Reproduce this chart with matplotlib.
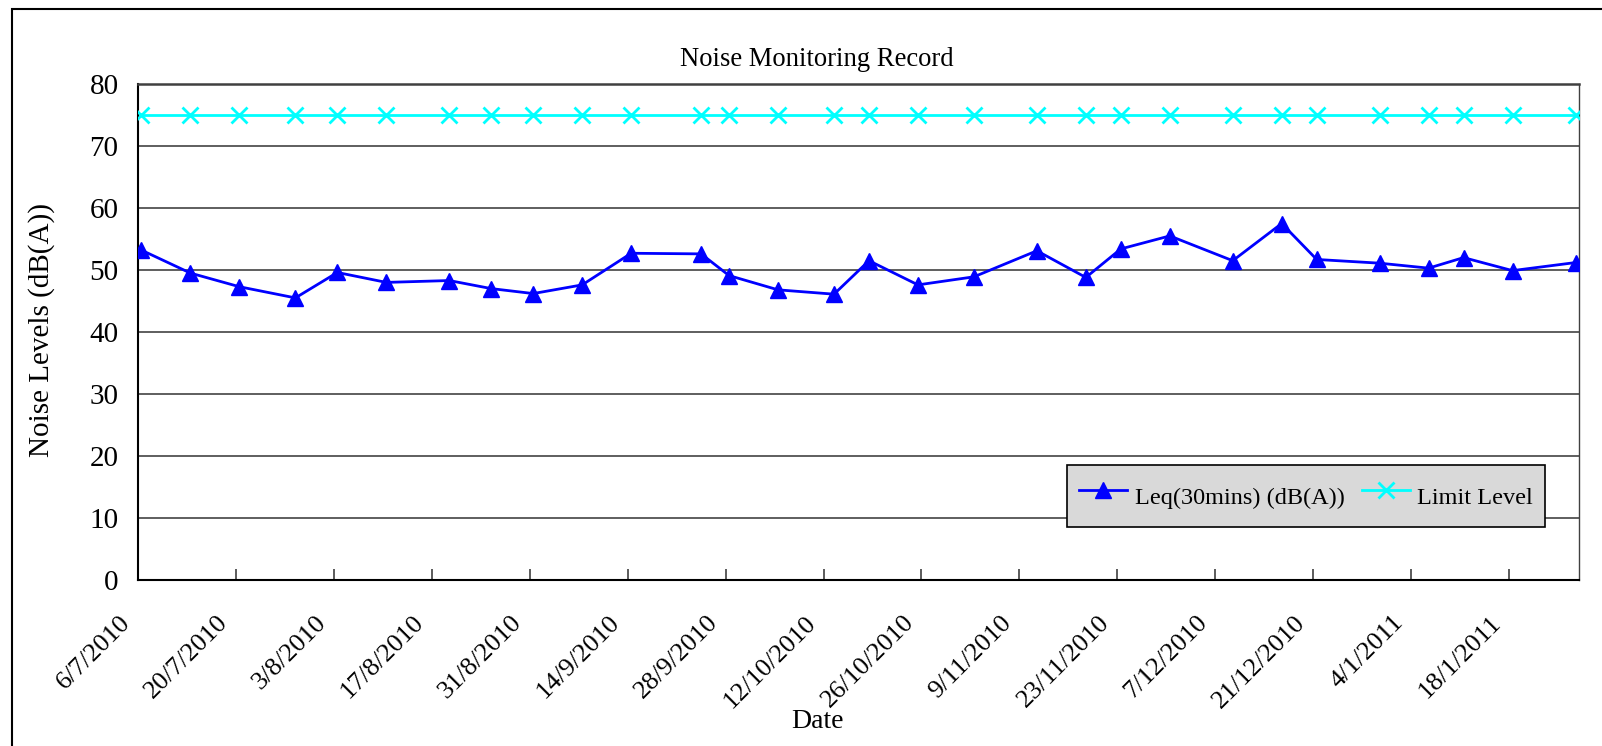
import matplotlib
matplotlib.use("Agg")
import matplotlib.pyplot as plt
import matplotlib.transforms as mtransforms
from matplotlib.patches import Rectangle
from datetime import datetime, timedelta

# ---- data ----
dates = ["6/7/2010", "13/7/2010", "20/7/2010", "28/7/2010", "3/8/2010", "10/8/2010",
         "19/8/2010", "25/8/2010", "31/8/2010", "7/9/2010", "14/9/2010", "24/9/2010",
         "28/9/2010", "5/10/2010", "13/10/2010", "18/10/2010", "25/10/2010", "2/11/2010",
         "11/11/2010", "18/11/2010", "23/11/2010", "30/11/2010", "9/12/2010", "16/12/2010",
         "21/12/2010", "30/12/2010", "6/1/2011", "11/1/2011", "18/1/2011", "27/1/2011"]
leq = [53.2, 49.5, 47.3, 45.5, 49.6, 48.0,
       48.3, 47.0, 46.2, 47.6, 52.7, 52.6,
       49.1, 46.8, 46.1, 51.5, 47.6, 48.9,
       53.1, 48.8, 53.4, 55.5, 51.5, 57.5,
       51.7, 51.1, 50.3, 52.0, 49.9, 51.2]
limit = [75] * len(dates)
tick_labels = ["6/7/2010", "20/7/2010", "3/8/2010", "17/8/2010", "31/8/2010", "14/9/2010",
               "28/9/2010", "12/10/2010", "26/10/2010", "9/11/2010", "23/11/2010",
               "7/12/2010", "21/12/2010", "4/1/2011", "18/1/2011"]
y_ticks = [0, 10, 20, 30, 40, 50, 60, 70, 80]

def parse(s):
    return datetime.strptime(s, "%d/%m/%Y")

# Excel date axis: each point sits in the middle of its day
xs = [parse(d) + timedelta(hours=12) for d in dates]
xt = [parse(t) for t in tick_labels]

plt.rcParams['font.family'] = ['Liberation Serif', 'DejaVu Serif']

W, H = 1602, 746
fig = plt.figure(figsize=(W / 100, H / 100), dpi=100)

# outer chart-area border (clipped by the image on right and bottom)
fig.patches.append(Rectangle((12 / W, -0.1), 1.2, 1 - 9.5 / H + 0.1,
                             transform=fig.transFigure, fill=False,
                             edgecolor='black', linewidth=1.5))

l, r, t, b = 138, 1579, 84, 580
ax = fig.add_axes([l / W, 1 - b / H, (r - l) / W, (b - t) / H])

ax.plot(xs, limit, color='#00FFFF', lw=2, marker='x', markersize=11,
        markeredgewidth=2, label='Limit Level', zorder=3)
ax.plot(xs, leq, color='#0000FF', lw=2, marker='^', markersize=11,
        label='Leq(30mins) (dB(A))', zorder=4)

ax.set_xlim(parse("6/7/2010"), parse("28/1/2011"))
ax.set_ylim(0, 80)
ax.set_yticks(y_ticks)
ax.set_xticks(xt)
ax.set_xticklabels(tick_labels, rotation=45, ha='right', va='top',
                   rotation_mode='anchor', fontsize=19)
ax.tick_params(axis='x', direction='in', length=8, width=1.2, color='#404040', pad=14)
ax.tick_params(axis='y', direction='in', length=0, labelsize=21, pad=14)
ax.grid(axis='y', color='#333333', lw=1.1)
ax.set_axisbelow(True)

off = mtransforms.ScaledTranslation(-19 / 100, -12 / 100, fig.dpi_scale_trans)
for lab in ax.get_xticklabels():
    lab.set_transform(lab.get_transform() + off)

for s in ['left', 'bottom']:
    ax.spines[s].set_color('black')
    ax.spines[s].set_linewidth(1.5)
ax.spines['top'].set_color('#404040')
ax.spines['top'].set_linewidth(1.8)
ax.spines['right'].set_color('#404040')
ax.spines['right'].set_linewidth(1.0)

fig.text(817 / W, 1 - 60 / H, 'Noise Monitoring Record', ha='center', va='center', fontsize=19.2)
fig.text(817 / W, 1 - 721 / H, 'Date', ha='center', va='center', fontsize=20)
fig.text(42 / W, 1 - 330 / H, 'Noise Levels (dB(A))', ha='center', va='center',
         rotation=90, fontsize=21)

handles, labels = ax.get_legend_handles_labels()
leg = ax.legend(handles[::-1], labels[::-1], ncol=2, loc='center',
                bbox_to_anchor=(1306 / W, 1 - 496 / H), bbox_transform=fig.transFigure,
                fontsize=17.5, frameon=True, fancybox=False, facecolor='#d9d9d9',
                edgecolor='black', framealpha=1, handlelength=2.0, handletextpad=0.3,
                columnspacing=0.7, borderpad=0.5, handleheight=2.0, borderaxespad=0)
leg.get_frame().set_linewidth(1.2)

fig.savefig('out.png', dpi=100)
